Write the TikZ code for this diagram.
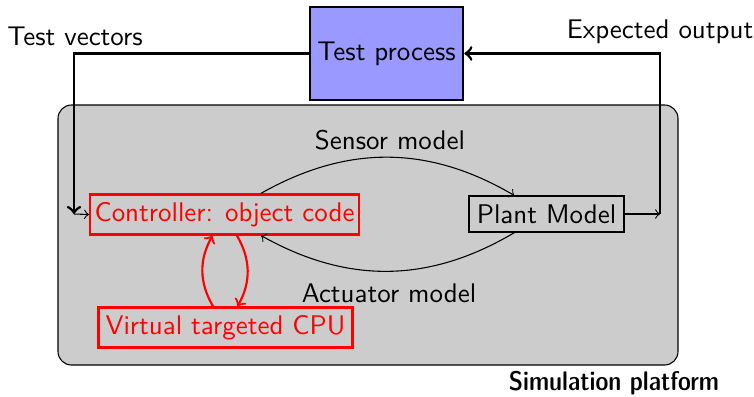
\documentclass[tikz,border=0pt]{standalone}
\usepackage{tikz}
\def\px{0.371pt}
\begin{document}
\begin{tikzpicture}[x=0.371pt,y=-0.371pt,font=\sffamily,
  every node/.style={inner sep=0pt},
  redbox/.style={draw=red,thick,text=red,minimum height=40*\px},
  plainbox/.style={draw,minimum height=36*\px},
  thickarrow/.style={->,line width=1pt},
  redarrow/.style={->,red,thick}]
\useasboundingbox (0,0) rectangle (754,396);
% simulation platform background
\node[draw,fill=black!20,rounded corners=5pt,minimum width=620*\px,minimum height=260*\px]
  (platform) at (368,235) {};
\node[font=\sffamily\fontseries{sbc}\selectfont] (platlbl) at (614,383) {Simulation platform};
% test process
\node[draw,line width=1pt,fill=blue!40,minimum width=153*\px,minimum height=93*\px]
  (tp) at (386.5,53.5) {Test process};
% models
\node[redbox,minimum width=269*\px] (ctrl) at (224.5,214.5) {Controller: object code};
\node[plainbox,minimum width=155*\px] (plant) at (546.5,214) {Plant Model};
\node[redbox,minimum width=254*\px] (cpu) at (225.5,327.5) {Virtual targeted CPU};
\coordinate (inL) at (74,214);
\coordinate (outR) at (660,214);
% connections
\draw[thickarrow] (tp.west) -| (inL);
\draw[->] (inL) -- (ctrl.west);
\draw[->] (plant.east) -- (outR);
\draw[thickarrow] (outR) |- (tp.east);
\draw[->] (ctrl) to[bend left] (plant);
\draw[->] (plant) to[bend left] (ctrl);
\draw[redarrow] (ctrl) to[bend left] (cpu);
\draw[redarrow] (cpu) to[bend left] (ctrl);
% labels
\node (tv) at (75,36) {Test vectors};
\node (eo) at (660,32) {Expected output};
\node (sm) at (390,140) {Sensor model};
\node (am) at (389,293) {Actuator model};
\end{tikzpicture}
\end{document}
